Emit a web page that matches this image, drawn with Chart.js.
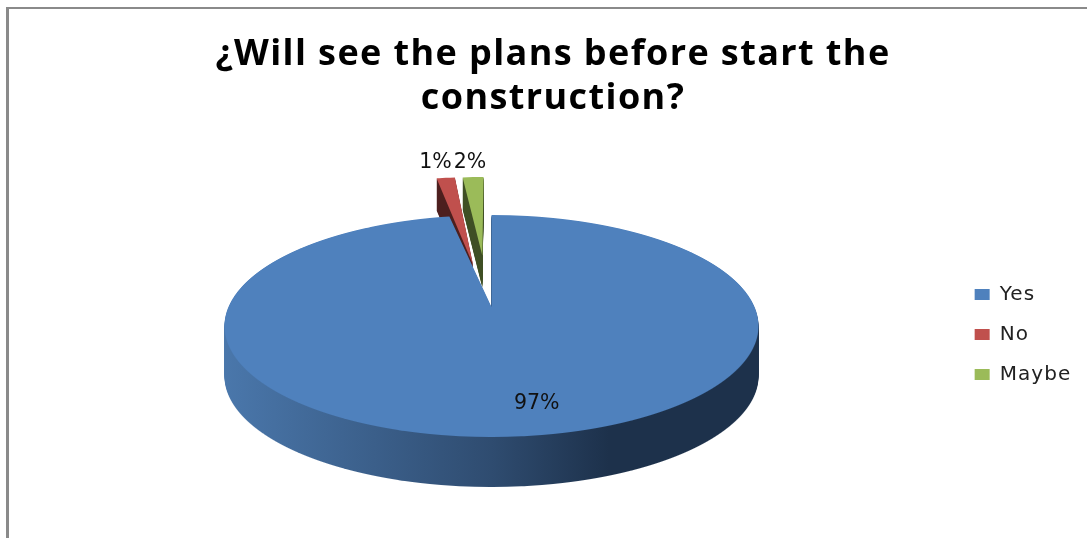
<!DOCTYPE html>
<html><head><meta charset="utf-8">
<style>
html,body{margin:0;padding:0;background:#fff;overflow:hidden}
#wrap{position:relative;width:1087px;height:538px}
#frame{position:absolute;left:6px;top:7px;right:0;bottom:0;border-left:3px solid #8a8a8a;border-top:2px solid #8a8a8a;pointer-events:none}
canvas{position:absolute;left:0;top:0}
</style>
<script src="https://cdn.jsdelivr.net/npm/chart.js@4"></script>
</head><body>
<div id="wrap"><canvas id="c" width="1087" height="538"></canvas><div id="frame"></div></div>
<script>
const categories = ['Yes', 'No', 'Maybe'];
const values = [97, 1.4, 1.6];
const sliceColors = ['#4f81bd', '#c0504d', '#9bbb59'];
const titleLines = ['¿Will see the plans before start the', 'construction?'];

// view of the tilted pie: far rim, centre and near rim rows, centre column, width
const VIEW = {x0: 491.5, far: 215, mid: 307, near: 437, halfW: 267};
const cP = (VIEW.mid*2 - VIEW.far - VIEW.near) / (VIEW.near - VIEW.far);
const aP = VIEW.near*(1+cP) - VIEW.mid;
const kP = VIEW.halfW*Math.sqrt(1-cP*cP);
const project = (u,v) => ({x: VIEW.x0 + kP*u/(1+cP*v), y: (aP*v+VIEW.mid)/(1+cP*v)});

// how far each slice is pulled out of the pie, and lengthened, in units of the radius
const pull = [[0,0],[-0.075,-0.42],[-0.038,-0.52]];
const stretch = [1, 1.1, 1];
const depth = [50, 32, 32];
const wallStops = [
  [[0,'#4a77ab'],[0.5,'#2f4c70'],[0.72,'#1d314b'],[1,'#1d314b']],
  [[0,'#4d1f1e'],[1,'#4d1f1e']],
  [[0,'#3f4f24'],[1,'#3f4f24']]
];

function spaced(box, ctx, px){
  if(!box || box._spaced) return;
  const d = box.draw;
  box.draw = function(a){ ctx.letterSpacing = px; d.call(box,a); ctx.letterSpacing = '0px'; };
  box._spaced = true;
}

const pie3d = {
  id:'pie3d',
  beforeDraw(chart){
    spaced(chart.titleBlock, chart.ctx, '1.4px');
    spaced(chart.legend, chart.ctx, '1.1px');
  },
  beforeDatasetDraw(chart,args){
    const meta = args.meta, main = chart.ctx, W = chart.width, H = chart.height;
    [2,1,0].forEach(i=>{
      const arc = meta.data[i], R = arc.outerRadius;
      const top = document.createElement('canvas'); top.width=W; top.height=H;
      const t = top.getContext('2d');
      for(let Y=120;Y<470;Y++){
        const Yc=Y+0.5, v=(VIEW.mid-Yc)/(cP*Yc-aP), d=1+cP*v;
        const sx=kP/(R*d), sy=(aP-VIEW.mid*cP)/(d*d*R);
        t.save();
        t.beginPath(); t.rect(0,Y,W,1); t.clip();
        t.setTransform(sx,0,0,sy,VIEW.x0-sx*arc.x,Yc-sy*(arc.y+v*R));
        t.translate(pull[i][0]*R+arc.x,pull[i][1]*R+arc.y);
        t.scale(1,stretch[i]);
        t.translate(-arc.x,-arc.y);
        arc.draw(t);
        t.restore();
      }
      const wall = document.createElement('canvas'); wall.width=W; wall.height=H;
      const w = wall.getContext('2d');
      for(let dy=depth[i];dy>=1;dy--) w.drawImage(top,0,dy);
      w.globalCompositeOperation='source-in';
      const g = w.createLinearGradient(VIEW.x0-VIEW.halfW,0,VIEW.x0+VIEW.halfW,0);
      wallStops[i].forEach(s=>g.addColorStop(s[0],s[1]));
      w.fillStyle=g; w.fillRect(0,0,W,H);
      main.drawImage(wall,0,0);
      main.drawImage(top,0,0);
    });
    return false;
  },
  afterDraw(chart){
    const ctx=chart.ctx, tot=values.reduce((a,b)=>a+b,0);
    ctx.save();
    ctx.font='20.5px "DejaVu Sans"'; ctx.fillStyle='#111'; ctx.textAlign='center'; ctx.textBaseline='middle';
    const place=[[0.78,23,0],[1.7,-6,-4],[1.7,-4,-3]];
    let acc=0;
    values.forEach((val,i)=>{
      const mid=(acc+val/2)/tot*2*Math.PI; acc+=val;
      const r=place[i][0];
      const p=project(Math.sin(mid)*r,-Math.cos(mid)*r);
      ctx.fillText(Math.round(val/tot*100)+'%',p.x+place[i][1],p.y+place[i][2]);
    });
    ctx.restore();
  }
};

new Chart(document.getElementById('c'),{
  type:'pie',
  data:{labels:categories,datasets:[{data:values,backgroundColor:sliceColors,borderWidth:0,radius:100}]},
  options:{
    responsive:false,animation:false,
    layout:{padding:{left:30,right:11,bottom:0}},
    plugins:{
      tooltip:{enabled:false},
      title:{display:true,text:titleLines,color:'#000',font:{family:'"Open Sans"',size:36,weight:'bold',lineHeight:1.22},padding:{top:33,bottom:10}},
      legend:{position:'right',fullSize:false,labels:{boxWidth:15,boxHeight:11,padding:20,color:'#222',font:{family:'"DejaVu Sans"',size:20}}}
    }
  },
  plugins:[pie3d]
});
</script>
</body></html>
